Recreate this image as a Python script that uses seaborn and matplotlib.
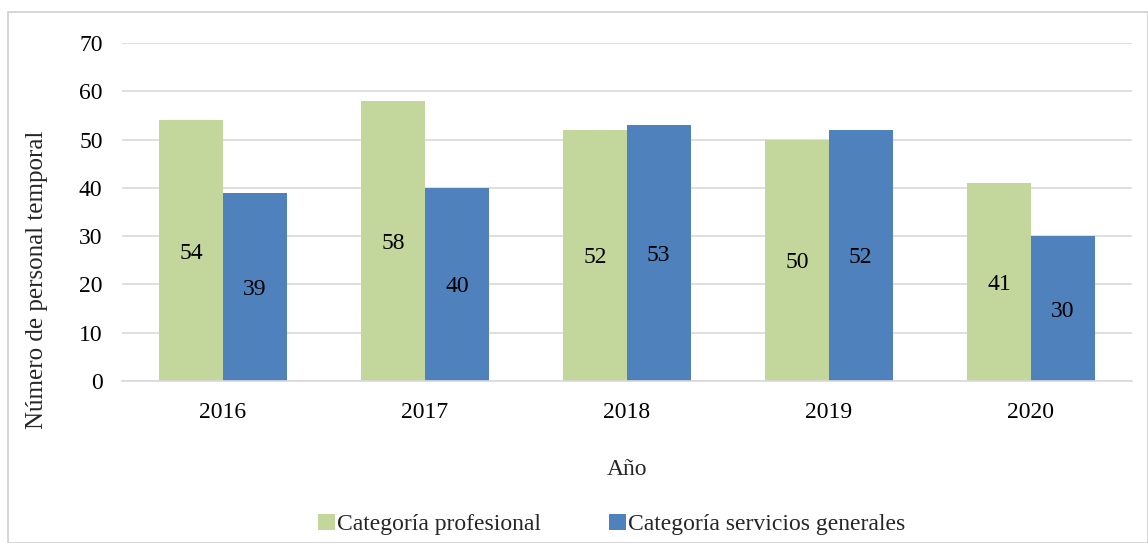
import pandas as pd
import matplotlib.pyplot as plt
import seaborn as sns
from matplotlib.patches import Rectangle

years = ["2016", "2017", "2018", "2019", "2020"]
profesional = [54, 58, 52, 50, 41]
servicios = [39, 40, 53, 52, 30]
series_names = ["Categoría profesional", "Categoría servicios generales"]

df = pd.DataFrame({
    "Año": years * 2,
    "valor": profesional + servicios,
    "serie": [series_names[0]] * len(years) + [series_names[1]] * len(years),
})

sns.set_theme(style="white")
plt.rcParams["font.family"] = ["Liberation Serif", "DejaVu Serif"]

fig = plt.figure(figsize=(11.48, 5.43), dpi=100)
ax = fig.add_axes([0.1063, 0.2983, 0.8797, 0.6225])

palette = {series_names[0]: "#c3d69b", series_names[1]: "#4f81bd"}
sns.barplot(data=df, x="Año", y="valor", hue="serie", palette=palette,
            width=0.63, saturation=1, ax=ax, legend=True, zorder=2,
            linewidth=0)

# value labels in the middle of each bar
for cont in ax.containers:
    for bar in cont:
        h = bar.get_height()
        ax.text(bar.get_x() + bar.get_width() / 2, h / 2, f"{h:.0f}",
                ha="center", va="center_baseline", fontsize=17, color="black", zorder=3)

ax.set_ylim(0, 70)
ax.set_yticks(range(0, 71, 10))
ax.set_xlim(-0.5, 4.5)
ax.yaxis.grid(True, color="#d9d9d9", linewidth=1.2, zorder=0)
ax.set_axisbelow(True)
for s in ["top", "right", "left"]:
    ax.spines[s].set_visible(False)
ax.spines["bottom"].set_color("#d9d9d9")
ax.spines["bottom"].set_linewidth(1.2)
ax.tick_params(axis="both", length=0, labelsize=17, colors="black")
ax.tick_params(axis="x", pad=15)
ax.tick_params(axis="y", pad=14)

ax.set_xlabel("Año", fontsize=17, labelpad=26)
ax.set_ylabel("Número de personal temporal", fontsize=18)
ax.yaxis.set_label_coords(-0.073, 0.30)

handles, labels = ax.get_legend_handles_labels()
ax.legend(handles, labels, loc="upper center", bbox_to_anchor=(0.485, -0.33),
          ncol=2, frameon=False, fontsize=17, handlelength=0.7, handleheight=0.7,
          handletextpad=0.1, columnspacing=2.9)

fig.patches.append(Rectangle((8 / 1148, 0), 1 - 8 / 1148, 1 - 12 / 543,
                             transform=fig.transFigure, fill=False,
                             edgecolor="#d0d0d0", linewidth=1.2))

fig.savefig("out.png", dpi=100)
